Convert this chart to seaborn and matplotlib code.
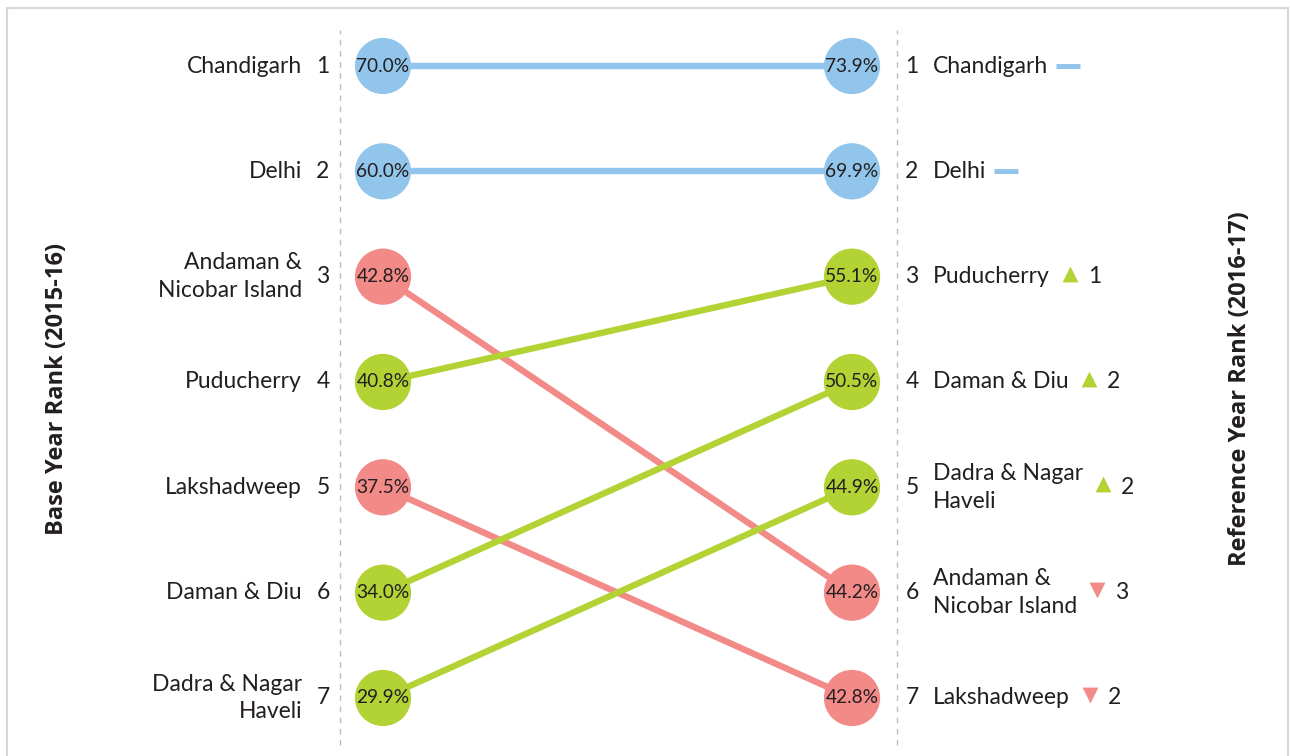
import matplotlib
matplotlib.use("Agg")
import matplotlib.pyplot as plt
import seaborn as sns
import pandas as pd
import numpy as np
from matplotlib.lines import Line2D

# ---------------- data ----------------
regions = ["Chandigarh", "Delhi", "Andaman & Nicobar Island", "Puducherry",
           "Lakshadweep", "Daman & Diu", "Dadra & Nagar Haveli"]
label_names = ["Chandigarh", "Delhi", "Andaman &\nNicobar Island", "Puducherry",
               "Lakshadweep", "Daman & Diu", "Dadra & Nagar\nHaveli"]
base_values = [70.0, 60.0, 42.8, 40.8, 37.5, 34.0, 29.9]
ref_values = [73.9, 69.9, 44.2, 55.1, 42.8, 50.5, 44.9]
axis_titles = ["Base Year Rank (2015-16)", "Reference Year Rank (2016-17)"]

status_colors = {"same": "#92C5EB", "up": "#B3D335", "down": "#F28B88"}
TEXT = "#231F20"

# ---------------- derived ----------------
base_rank = pd.Series(base_values).rank(ascending=False, method="first").astype(int).tolist()
ref_rank = pd.Series(ref_values).rank(ascending=False, method="first").astype(int).tolist()
change = [b - r for b, r in zip(base_rank, ref_rank)]
status = ["up" if c > 0 else ("down" if c < 0 else "same") for c in change]

rows = []
for i, reg in enumerate(regions):
    rows.append(dict(region=reg, period=0, rank=base_rank[i], value=base_values[i], status=status[i]))
    rows.append(dict(region=reg, period=1, rank=ref_rank[i], value=ref_values[i], status=status[i]))
df = pd.DataFrame(rows)

# ---------------- figure ----------------
sns.set_theme(style="white")
plt.rcParams["font.family"] = ["Lato", "DejaVu Sans"]

W, H, DPI = 1290, 756, 100
fig = plt.figure(figsize=(W / DPI, H / DPI), dpi=DPI)
ax = fig.add_axes([0, 0, 1, 1])

def set_limits():
    ax.set_xlim(-383 / 469, (W - 383) / 469)
    ax.set_ylim(1 + (H - 66) / 105.33, 1 - 66 / 105.33)
    ax.axis("off")

set_limits()

# dashed guides
for xg in (-43 / 469, 514 / 469):
    ax.axvline(xg, ymin=1 - 745 / H, ymax=1 - 30 / H, color="#BDBDBD", lw=1.0,
               dashes=(4, 4), zorder=0)

# lines
sns.lineplot(data=df, x="period", y="rank", units="region", estimator=None,
             hue="status", palette=status_colors, lw=4.6, legend=False,
             sort=False, ax=ax, zorder=1)
for l in ax.lines[2:]:
    l.set_solid_capstyle("butt")

# circles
sns.scatterplot(data=df, x="period", y="rank", hue="status", palette=status_colors,
                s=1640, linewidth=0, legend=False, ax=ax, zorder=3)
set_limits()

for _, r in df.iterrows():
    ax.text(r["period"], r["rank"], f"{r['value']:.1f}%", ha="center", va="center",
            fontsize=13.8, color=TEXT, zorder=4)

FS = 16.5
LS = 1.4
# left labels
for i in range(len(regions)):
    ax.text(-60 / 469, base_rank[i], str(base_rank[i]), ha="center", va="center",
            fontsize=FS, color=TEXT)
    ax.text(-81 / 469, base_rank[i], label_names[i], ha="right", va="center",
            multialignment="right", fontsize=FS, color=TEXT, linespacing=LS)

# right labels
name_texts = []
for i in range(len(regions)):
    ax.text(1 + 60 / 469, ref_rank[i], str(ref_rank[i]), ha="center", va="center",
            fontsize=FS, color=TEXT)
    t = ax.text(1 + 81 / 469, ref_rank[i], label_names[i], ha="left", va="center",
                multialignment="left", fontsize=FS, color=TEXT, linespacing=LS)
    name_texts.append(t)

# axis titles
title_font = ["Open Sans", "DejaVu Sans"]
fig.text(57 / W, 1 - 389 / H, axis_titles[0], rotation=90, ha="center", va="center",
         fontsize=17, fontweight="bold", family=title_font, color=TEXT)
fig.text(1240 / W, 1 - 389 / H, axis_titles[1], rotation=90, ha="center", va="center",
         fontsize=17, fontweight="bold", family=title_font, color=TEXT)

# change indicators
fig.canvas.draw()
renderer = fig.canvas.get_renderer()
inv = ax.transData.inverted()
px = 1 / 469          # data units per pixel (x)
py = 1 / 105.33       # data units per pixel (y)
for i, t in enumerate(name_texts):
    bb = t.get_window_extent(renderer)
    x_end = inv.transform((bb.x1, 0))[0]
    y = ref_rank[i]
    col = status_colors[status[i]]
    if status[i] == "same":
        ax.plot([x_end + 8 * px, x_end + 32 * px], [y, y], color=col, lw=3.6,
                solid_capstyle="butt")
    else:
        mk = "^" if status[i] == "up" else "v"
        xm = x_end + 20 * px
        ax.scatter([xm], [y - 3 * py], marker=mk, s=130, color=col, linewidths=0)
        ax.text(xm + 18 * px, y, str(abs(change[i])), ha="left", va="center",
                fontsize=FS, color=TEXT)

# frame
for xs, ys in [([7 / W, 7 / W], [0, 1 - 8 / H]),
               ([7 / W, 1288 / W], [1 - 8 / H, 1 - 8 / H]),
               ([1288 / W, 1288 / W], [0, 1 - 8 / H])]:
    fig.add_artist(Line2D(xs, ys, transform=fig.transFigure, color="#D6D6D6", lw=1.5))

fig.savefig("out.png", dpi=DPI, facecolor="white")
